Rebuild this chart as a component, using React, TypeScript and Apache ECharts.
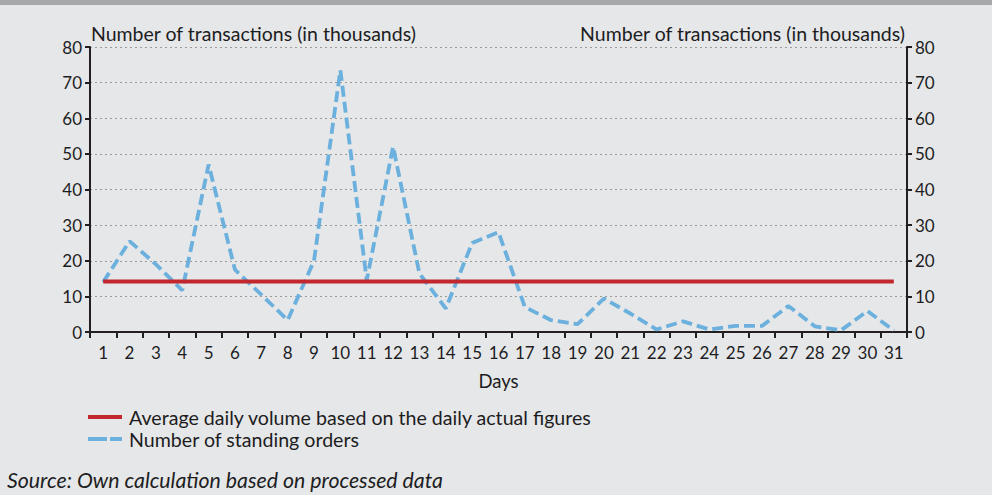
import React, { useEffect, useRef } from "react";
import * as echarts from "echarts";

const days: string[] = Array.from({ length: 31 }, (_, i) => String(i + 1));
const standingOrders: number[] = [
  14, 25.5, 19, 11.7, 47, 17.5, 10.5, 3.3, 20, 73.5,
  14.5, 52, 16.4, 6.6, 25, 28, 7, 3.3, 2.2, 9.4,
  5.2, 0.7, 3, 0.7, 1.7, 1.7, 7.3, 1.6, 0.5, 5.9, 0.4,
];
const averageValue = 14.2;
const averageDaily: number[] = days.map(() => averageValue);
const yTicks = { min: 0, max: 80, interval: 10 };
const axisTitle = "Number of transactions (in thousands)";
const xAxisTitle = "Days";
const seriesNames = [
  "Average daily volume based on the daily actual figures",
  "Number of standing orders",
];
const sourceText = "Source: Own calculation based on processed data";

const FONT = "Lato, 'Open Sans', sans-serif";
const TXT = "#1d1d1f";
const RED = "#c1272d";
const BLUE = "#6cb0de";

export default function App() {
  const ref = useRef<HTMLDivElement>(null);
  useEffect(() => {
    if (!ref.current) return;
    const chart = echarts.init(ref.current, undefined, { renderer: "svg" });
    const yAxisBase = {
      type: "value" as const,
      min: yTicks.min,
      max: yTicks.max,
      interval: yTicks.interval,
      axisLine: { show: true, lineStyle: { color: "#231f20", width: 2 } },
      axisTick: { show: true, length: 5, lineStyle: { color: "#231f20", width: 2 } },
      axisLabel: { color: TXT, fontSize: 17, fontFamily: FONT, margin: 8 },
    };
    chart.setOption({
      animation: false,
      backgroundColor: "#e6e7e8",
      textStyle: { fontFamily: FONT },
      grid: { left: 90, right: 85, top: 47, bottom: 163 },
      legend: {
        orient: "vertical",
        left: 88,
        top: 406,
        padding: 0,
        itemGap: 0,
        itemWidth: 34,
        itemHeight: 4,
        textStyle: {
          color: TXT,
          fontSize: 19.6,
          fontFamily: FONT,
          lineHeight: 22,
          padding: [0, 0, 0, 2],
        },
        data: [
          { name: seriesNames[0], icon: "path://M0,0h34v4h-34z" },
          { name: seriesNames[1], icon: "path://M0,0h19v4h-19zM22,0h12v4h-12z" },
        ],
      },
      xAxis: {
        type: "category",
        data: days,
        boundaryGap: true,
        name: xAxisTitle,
        nameLocation: "middle",
        nameGap: 39,
        nameTextStyle: { color: TXT, fontSize: 18.5, fontFamily: FONT },
        axisLine: { lineStyle: { color: "#231f20", width: 2 } },
        axisTick: { show: true, length: 6, lineStyle: { color: "#231f20", width: 2 } },
        axisLabel: { color: TXT, fontSize: 17, fontFamily: FONT, margin: 12, interval: 0 },
      },
      yAxis: [
        {
          ...yAxisBase,
          position: "left",
          splitLine: { show: true, lineStyle: { color: "#9a9a9a", type: [2, 3], width: 1 } },
        },
        {
          ...yAxisBase,
          position: "right",
          splitLine: { show: false },
        },
      ],
      series: [
        {
          name: seriesNames[0],
          type: "line",
          data: averageDaily,
          symbol: "none",
          lineStyle: { color: RED, width: 4 },
          itemStyle: { color: RED },
          z: 3,
        },
        {
          name: seriesNames[1],
          type: "line",
          data: standingOrders,
          symbol: "none",
          lineStyle: { color: BLUE, width: 3.8, type: [11, 5] },
          itemStyle: { color: BLUE },
          z: 2,
        },
      ],
      graphic: [
        { type: "rect", left: 0, top: 0, shape: { width: 992, height: 5 }, style: { fill: "#a7a8ab" } },
        {
          type: "text",
          x: 91,
          y: 33,
          style: {
            text: axisTitle,
            fill: TXT,
            fontSize: 19.5,
            fontFamily: FONT,
            textAlign: "left",
            textVerticalAlign: "middle",
          },
        },
        {
          type: "text",
          x: 905,
          y: 33,
          style: {
            text: axisTitle,
            fill: TXT,
            fontSize: 19.5,
            fontFamily: FONT,
            textAlign: "right",
            textVerticalAlign: "middle",
          },
        },
        {
          type: "text",
          x: 7,
          y: 480,
          style: {
            text: sourceText,
            fill: TXT,
            fontSize: 21.3,
            fontFamily: FONT,
            fontStyle: "italic",
            textAlign: "left",
            textVerticalAlign: "middle",
          },
        },
      ],
    });
    return () => chart.dispose();
  }, []);
  return (
    <div
      ref={ref}
      style={{ position: "fixed", left: 0, top: 0, width: 992, height: 495 }}
    />
  );
}
